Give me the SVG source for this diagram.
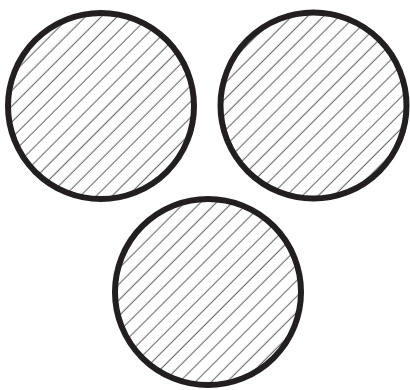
<svg xmlns="http://www.w3.org/2000/svg" width="410" height="390" viewBox="0 0 410 390">
  <style>
    .disc { fill: url(#hatch); stroke: #231f20; stroke-width: 6; }
  </style>
  <defs>
    <pattern id="hatch" patternUnits="userSpaceOnUse" width="11.2" height="11.2" patternTransform="rotate(45)">
      <rect width="11.2" height="11.2" fill="#ffffff"/>
      <line x1="5" y1="0" x2="5" y2="11.2" stroke="#5e5e5e" stroke-width="1"/>
    </pattern>
  </defs>
  <rect width="410" height="390" fill="#ffffff"/>
  <g id="circle-left">
    <circle class="disc" cx="101" cy="106" r="93"/>
  </g>
  <g id="circle-right">
    <circle class="disc" cx="313.5" cy="105.5" r="93"/>
  </g>
  <g id="circle-bottom">
    <circle class="disc" cx="208" cy="292" r="93"/>
  </g>
  <g id="connectors"></g>
</svg>
